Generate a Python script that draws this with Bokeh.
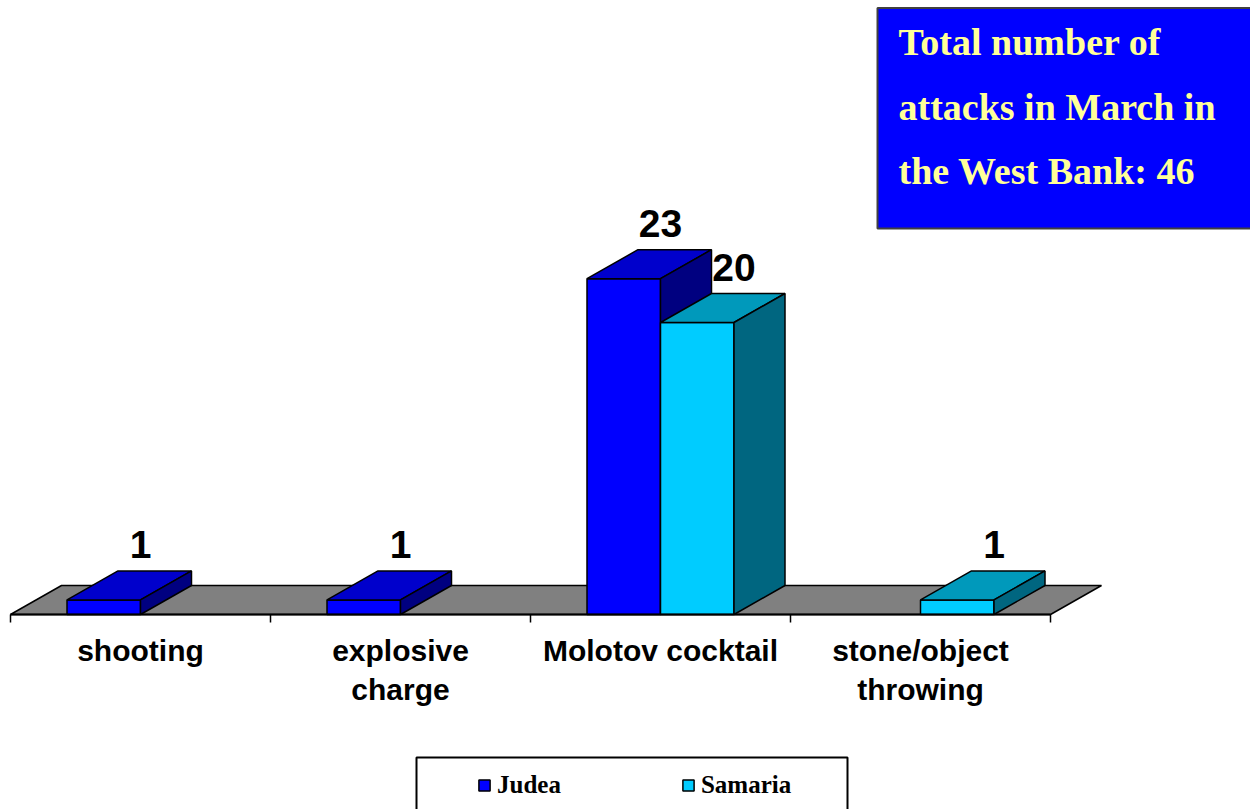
from bokeh.plotting import figure
from bokeh.models import (Range1d, LinearAxis, FixedTicker, Label, BoxAnnotation,
                          Legend, LegendItem)
from bokeh.embed import file_html
from bokeh.resources import INLINE
from bokeh.core.properties import value

# ---------------- data ----------------
categories = ["shooting", "explosive\ncharge", "Molotov cocktail", "stone/object\nthrowing"]
series_names = ["Judea", "Samaria"]
judea = [1, 1, 23, 0]
samaria = [0, 0, 20, 1]
note_lines = ["Total number of", "attacks in March in", "the West Bank: 46"]

# ---------------- styles ----------------
front_colors = ["#0000FF", "#00CCFF"]
top_colors = ["#0000CC", "#0099BB"]
side_colors = ["#000080", "#006680"]
floor_color = "#808080"

# ---------------- geometry (pixels per unit) ----------------
PX_X = 260.0          # pixels per category
PX_Y = 14.6           # pixels per attack
DX = 51 / PX_X        # 3-D depth, horizontal
DY = 29 / PX_Y        # 3-D depth, vertical
BAR_W = 73.5 / PX_X   # bar width

W, H = 1250, 809
x_origin = 10         # px where category 0 starts
y_origin = 614        # px (from top) of value 0
x_start = -x_origin / PX_X
x_end = (W - x_origin) / PX_X
y_end = y_origin / PX_Y
y_start = -(H - y_origin) / PX_Y


def sx_to_x(px):
    return (px - x_origin) / PX_X


def sy_to_y(py):
    return (y_origin - py) / PX_Y


p = figure(width=W, height=H, x_range=Range1d(x_start, x_end),
           y_range=Range1d(y_start, y_end), output_backend="svg",
           toolbar_location=None, min_border=0,
           x_axis_type=None, y_axis_type=None)
p.title.visible = False
p.grid.visible = False
p.outline_line_color = None
p.background_fill_color = "white"

n = len(categories)

# floor
p.patch([0, n, n + DX, DX], [0, 0, DY, DY], fill_color=floor_color,
        line_color="black", line_width=1.5)

# bars
front_renderers = []
label_x, label_y, label_t = [], [], []
for k, vals in enumerate([judea, samaria]):
    fx, fy, tx, ty, sx, sy = [], [], [], [], [], []
    for i, v in enumerate(vals):
        if v <= 0:
            continue
        x0 = i + 0.5 - BAR_W + k * BAR_W
        x1 = x0 + BAR_W
        fx.append([x0, x1, x1, x0]); fy.append([0, 0, v, v])
        tx.append([x0, x1, x1 + DX, x0 + DX]); ty.append([v, v, v + DY, v + DY])
        sx.append([x1, x1 + DX, x1 + DX, x1]); sy.append([0, DY, v + DY, v])
        label_x.append(x1); label_y.append(v + DY + 1.8); label_t.append(str(v))
    rf = p.patches(fx, fy, fill_color=front_colors[k], line_color="black", line_width=1.5)
    p.patches(tx, ty, fill_color=top_colors[k], line_color="black", line_width=1.5)
    p.patches(sx, sy, fill_color=side_colors[k], line_color="black", line_width=1.5)
    front_renderers.append(rf)

p.text(x=label_x, y=label_y, text=label_t, text_font=value("Liberation Sans"),
       text_font_style="bold", text_font_size="39px", text_color="black",
       text_align="center", text_baseline="alphabetic")

# category axis on the floor front edge
ax = LinearAxis(fixed_location=0, bounds=(0, n),
                ticker=FixedTicker(ticks=[i + 0.5 for i in range(n)],
                                   minor_ticks=list(range(n + 1))),
                major_label_overrides={i + 0.5: c for i, c in enumerate(categories)},
                major_tick_in=0, major_tick_out=0,
                minor_tick_in=0, minor_tick_out=8,
                minor_tick_line_color="black", minor_tick_line_width=1.5,
                axis_line_color="black", axis_line_width=2,
                major_label_text_font="Liberation Sans",
                major_label_text_font_style="bold",
                major_label_text_font_size="30px",
                major_label_text_color="black",
                major_label_standoff=11)
p.add_layout(ax, "below")

# note box
note_box = BoxAnnotation(left=sx_to_x(877), right=x_end + 1,
                         top=sy_to_y(7.5), bottom=sy_to_y(228),
                         fill_color="#0000FF", fill_alpha=1.0,
                         line_color="#404040", line_alpha=1.0, line_width=2)
p.add_layout(note_box)
LINE_STEP = 64.7 / PX_Y
for j, t in enumerate(note_lines):
    p.add_layout(Label(x=sx_to_x(898), y=sy_to_y(41.5) - j * LINE_STEP,
                       text=t, text_font="Liberation Serif", text_font_style="bold",
                       text_font_size="38px", text_color="#FFFF99",
                       text_baseline="alphabetic", text_align="left"))

# legend frame
legend_box = BoxAnnotation(left=sx_to_x(416), right=sx_to_x(847),
                           top=sy_to_y(757), bottom=y_start - 5,
                           fill_color=None, fill_alpha=0,
                           line_color="black", line_alpha=1.0, line_width=2)
p.add_layout(legend_box)

legend = Legend(items=[LegendItem(label=series_names[k], renderers=[front_renderers[k]])
                       for k in range(len(series_names))],
                orientation="horizontal", location=(477, 10),
                border_line_color=None, background_fill_alpha=0,
                glyph_width=14, glyph_height=14, label_standoff=6,
                label_width=63, spacing=120, padding=0, margin=0,
                label_text_font="Liberation Serif", label_text_font_style="bold",
                label_text_font_size="25px", label_text_color="black")
p.add_layout(legend)

open("out.html", "w").write(file_html(p, INLINE))
